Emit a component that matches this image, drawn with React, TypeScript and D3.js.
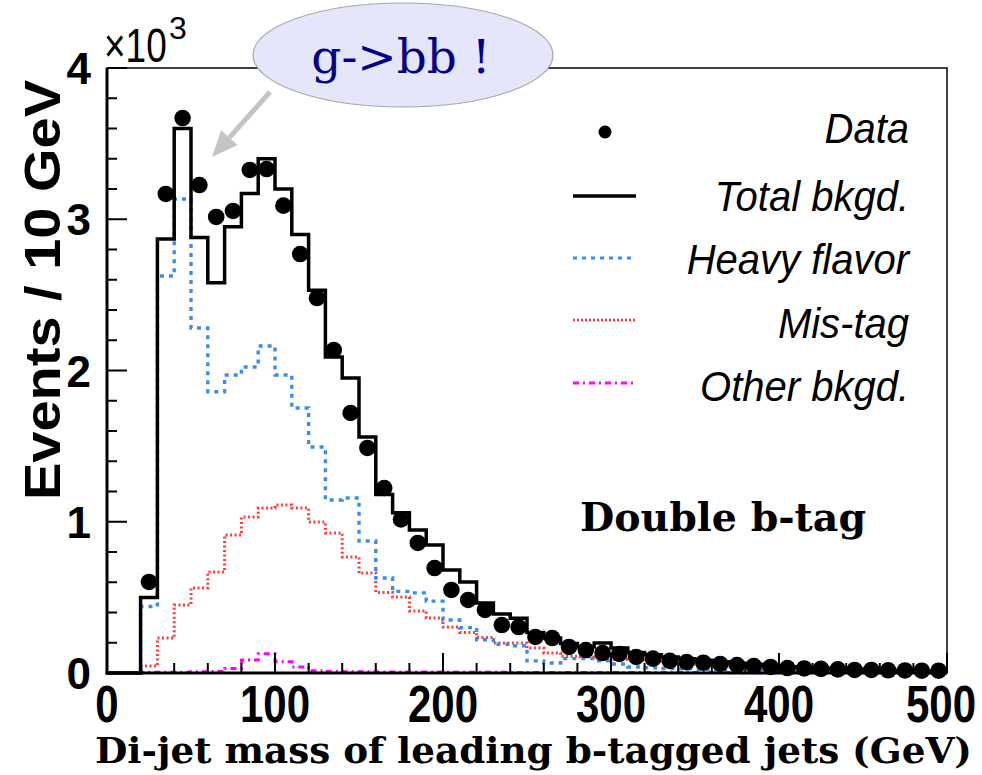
import React from "react";
import * as d3 from "d3";

// 10 GeV bins, lower edges (GeV)
const binLow = [
  0, 10, 20, 30, 40, 50, 60, 70, 80, 90,
  100, 110, 120, 130, 140, 150, 160, 170, 180, 190,
  200, 210, 220, 230, 240, 250, 260, 270, 280, 290,
  300, 310, 320, 330, 340, 350, 360, 370, 380, 390,
  400, 410, 420, 430, 440, 450, 460, 470, 480, 490,
];
const BIN = 10;

const dataVals: (number | null)[] = [
  null, null, 602, 3167, 3669, 3226, 3015, 3055, 3326, 3332,
  3090, 2770, 2479, 2135, 1719, 1488, 1223, 1015, 860, 694,
  549, 483, 417, 317, 304, 238, 231, 172, 152, 132,
  126, 106, 95, 80, 72, 68, 60, 52, 46, 40,
  33, 30, 27, 24, 20, 20, 18, 17, 15, 15,
];

const totalBkg = [
  0, 0, 500, 2870, 3600, 2880, 2580, 2950, 3170, 3400,
  3200, 2900, 2530, 2090, 1950, 1560, 1180, 1060, 945, 846,
  681, 602, 463, 390, 362, 268, 231, 195, 172, 198,
  165, 135, 120, 105, 95, 85, 75, 65, 58, 50,
  42, 38, 32, 28, 25, 22, 18, 15, 13, 10,
];

const heavyFlavor = [
  0, 0, 440, 2625, 3134, 2281, 1860, 1970, 2023, 2162,
  1970, 1752, 1494, 1144, 1157, 873, 628, 540, 530, 475,
  350, 300, 220, 190, 180, 80, 66, 95, 95, 80,
  60, 40, 35, 30, 28, 25, 22, 20, 18, 15,
  13, 12, 10, 8, 7, 6, 5, 4, 3, 3,
];

const misTag = [
  0, 0, 46, 231, 450, 562, 668, 912, 1031, 1091,
  1111, 1091, 998, 926, 767, 661, 533, 502, 410, 364,
  304, 268, 235, 198, 198, 165, 132, 110, 105, 100,
  90, 85, 75, 65, 60, 50, 45, 40, 35, 30,
  28, 25, 22, 20, 18, 15, 13, 12, 10, 8,
];

const otherBkg = [
  0, 0, 5, 5, 5, 8, 10, 30, 86, 128,
  75, 40, 15, 10, 8, 8, 7, 7, 6, 6,
  5, 5, 5, 5, 4, 4, 4, 4, 4, 3,
  3, 3, 3, 3, 3, 3, 3, 2, 2, 2,
  2, 2, 2, 2, 2, 2, 1, 1, 1, 1,
];

const xTickLabels = ["0", "100", "200", "300", "400", "500"];
const yTickLabels = ["0", "1", "2", "3", "4"];
const legendLabels = ["Data", "Total bkgd.", "Heavy flavor", "Mis-tag", "Other bkgd."];

const W = 982;
const H = 775;
const x = d3.scaleLinear().domain([0, 500]).range([107, 947]);
const y = d3.scaleLinear().domain([0, 4000]).range([673, 68]);

function stepPath(vals: number[]): string {
  const pts: [number, number][] = [];
  vals.forEach((v, i) => {
    pts.push([x(binLow[i]), y(v)]);
    pts.push([x(binLow[i] + BIN), y(v)]);
  });
  return d3.line()(pts) || "";
}

const SANS = "'Liberation Sans', Arial, Helvetica, sans-serif";
const SERIF = "'DejaVu Serif', serif";

const BLUE = "#3a8ee8";
const RED = "#ff3b3b";
const MAGENTA = "#ff00ff";

export default function App() {
  const yMinor = y.ticks(20);
  const xMinor = x.ticks(25);
  const yMajor = y.ticks(4);
  const xMajor = x.ticks(5);

  const series = [
    { vals: otherBkg, color: MAGENTA, w: 3, dash: "6 4 2 4" },
    { vals: misTag, color: RED, w: 3, dash: "2 2.5" },
    { vals: heavyFlavor, color: BLUE, w: 3.4, dash: "4 5" },
    { vals: totalBkg, color: "#000", w: 3.5, dash: undefined as string | undefined },
  ];

  const legendY = [132, 196, 258, 320, 383];
  const legendTextY = [143, 211, 274, 338, 401];

  // arrow geometry
  const a0 = [270, 92];
  const tip = [212, 157];
  const dx = tip[0] - a0[0];
  const dy = tip[1] - a0[1];
  const L = Math.hypot(dx, dy);
  const ux = dx / L;
  const uy = dy / L;
  const hl = 26;
  const hw = 11;
  const bx = tip[0] - ux * hl;
  const by = tip[1] - uy * hl;
  const px = -uy;
  const py = ux;

  return (
    <svg
      width={W}
      height={H}
      viewBox={`0 0 ${W} ${H}`}
      style={{ position: "absolute", left: 0, top: 0, background: "#fff" }}
    >
      <rect x={0} y={0} width={W} height={H} fill="#fff" />

      {/* frame */}
      <rect x={x(0)} y={y(4000)} width={x(500) - x(0)} height={y(0) - y(4000)} fill="none" stroke="#000" strokeWidth={1.5} />

      {/* histograms */}
      {series.map((s, i) => (
        <path
          key={i}
          d={stepPath(s.vals)}
          fill="none"
          stroke={s.color}
          strokeWidth={s.w}
          strokeDasharray={s.dash}
          strokeLinejoin="miter"
        />
      ))}

      {/* data points */}
      {dataVals.map((v, i) =>
        v == null ? null : (
          <circle key={i} cx={x(binLow[i] + BIN / 2)} cy={y(v)} r={8.3} fill="#000" />
        )
      )}

      {/* axes lines */}
      <line x1={x(0)} x2={x(0)} y1={y(0) + 1.5} y2={y(4000)} stroke="#000" strokeWidth={3} />
      <line x1={x(0) - 1.5} x2={x(500)} y1={y(0)} y2={y(0)} stroke="#000" strokeWidth={3} />

      {/* y ticks */}
      {yMinor.map((t) => {
        const major = t % 1000 === 0;
        return (
          <line key={"yt" + t} x1={x(0)} x2={x(0) + (major ? 20 : 10)} y1={y(t)} y2={y(t)} stroke="#000" strokeWidth={2} />
        );
      })}
      {/* x ticks */}
      {xMinor.map((t) => {
        const major = t % 100 === 0;
        return (
          <line key={"xt" + t} x1={x(t)} x2={x(t)} y1={y(0)} y2={y(0) - (major ? 20 : 10)} stroke="#000" strokeWidth={2} />
        );
      })}

      {/* y tick labels */}
      {yMajor.map((t, i) => (
        <text key={"yl" + t} x={91} y={y(t) + 16} textAnchor="end" fontFamily={SANS} fontWeight="bold" fontSize={44}>
          {yTickLabels[i]}
        </text>
      ))}
      {/* x tick labels */}
      {xMajor.map((t, i) => (
        <text
          key={"xl" + t}
          transform={`translate(${x(t) - (i === xMajor.length - 1 ? 6 : 0)}, 722) scale(1, 1.25)`}
          textAnchor="middle"
          fontFamily={SANS}
          fontWeight="bold"
          fontSize={42}
        >
          {xTickLabels[i]}
        </text>
      ))}

      {/* x10^3 */}
      <text transform="translate(104, 62) scale(1, 1.3)" fontFamily={SANS} fontSize={37}>
        ×10
      </text>
      <text x={169} y={39} fontFamily={SANS} fontSize={32}>
        3
      </text>

      {/* y axis title */}
      <text
        transform={`translate(60, 290) rotate(-90)`}
        textAnchor="middle"
        fontFamily={SANS}
        fontWeight="bold"
        fontSize={50}
        textLength={420}
        lengthAdjust="spacingAndGlyphs"
      >
        Events / 10 GeV
      </text>

      {/* x axis title */}
      <text
        x={95}
        y={763}
        fontFamily={SERIF}
        fontWeight="bold"
        fontSize={35}
        textLength={877}
        lengthAdjust="spacingAndGlyphs"
      >
        Di-jet mass of leading b-tagged jets (GeV)
      </text>

      {/* Double b-tag */}
      <text x={580} y={531} fontFamily={SERIF} fontWeight="bold" fontSize={39} textLength={286} lengthAdjust="spacingAndGlyphs">
        Double b-tag
      </text>

      {/* legend */}
      <circle cx={605} cy={legendY[0]} r={6.5} fill="#000" />
      <line x1={573} x2={636} y1={legendY[1]} y2={legendY[1]} stroke="#000" strokeWidth={3.5} />
      <line x1={573} x2={636} y1={legendY[2]} y2={legendY[2]} stroke={BLUE} strokeWidth={3} strokeDasharray="4 5" />
      <line x1={573} x2={636} y1={legendY[3]} y2={legendY[3]} stroke={RED} strokeWidth={2.5} strokeDasharray="2 2" />
      <line x1={573} x2={636} y1={legendY[4]} y2={legendY[4]} stroke={MAGENTA} strokeWidth={3} strokeDasharray="6 4 2 4" />
      {legendLabels.map((l, i) => (
        <text
          key={l}
          transform={`translate(909, ${legendTextY[i]}) scale(1, 1.08)`}
          textAnchor="end"
          fontFamily={SANS}
          fontStyle="italic"
          fontSize={40}
        >
          {l}
        </text>
      ))}

      {/* annotation */}
      <line x1={a0[0]} y1={a0[1]} x2={bx} y2={by} stroke="#c4c4c4" strokeWidth={5} />
      <polygon
        points={`${tip[0]},${tip[1]} ${bx + px * hw},${by + py * hw} ${bx - px * hw},${by - py * hw}`}
        fill="#c4c4c4"
      />
      <ellipse cx={403} cy={55} rx={150} ry={52} fill="#e6e6fa" stroke="#a8a8a8" strokeWidth={1.2} />
      <text x={401} y={73} textAnchor="middle" fontFamily={SERIF} fontSize={47} fill="#00008b">
        g-&gt;bb !
      </text>
    </svg>
  );
}
